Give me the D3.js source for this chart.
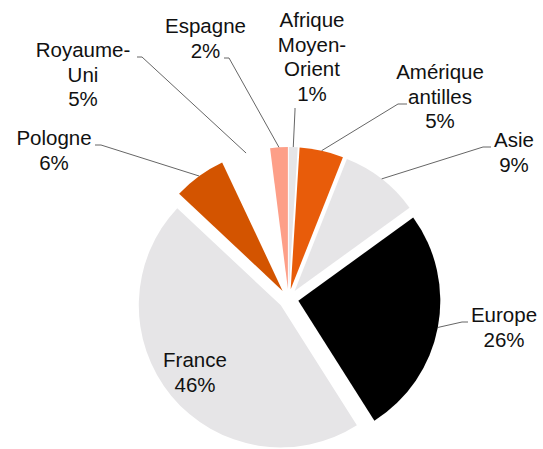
<!DOCTYPE html>
<html>
<head>
<meta charset="utf-8">
<script src="https://cdn.jsdelivr.net/npm/d3@7"></script>
<style>
  body { margin: 0; background: #fff; }
  text { font-family: "Liberation Sans", Arial, sans-serif; }
</style>
</head>
<body>
<div id="chart"></div>
<script>
// data, clockwise from 12 o'clock
var categories = ["Afrique Moyen-Orient", "Amérique antilles", "Asie", "Europe", "France", "Pologne", "Royaume-Uni", "Espagne"];
var labelLines = [["Afrique", "Moyen-", "Orient"], ["Amérique", "antilles"], ["Asie"], ["Europe"], ["France"], ["Pologne"], ["Royaume-", "Uni"], ["Espagne"]];
var values = [1, 5, 9, 26, 46, 6, 5, 2];
var colors = ["#e6e5e7", "#e85c0a", "#e6e5e7", "#000000", "#e6e5e7", "#d35400", "#ffffff", "#fd9f88"];

// label placement (layout only): centre x, first baseline y, leader stub [from, to] or null
var labelPos = [
    { x: 312, y: 27, stub: [[295, 108], [295, 110]] },
    { x: 440, y: 79, stub: [[407, 104], [398, 104]] },
    { x: 514, y: 147, stub: [[491, 147], [483, 147]] },
    { x: 504, y: 322, stub: [[468, 322], [462, 322]] },
    { x: 195, y: 367, stub: null },
    { x: 54, y: 145, stub: [[95, 145], [101, 145]] },
    { x: 83, y: 57, stub: [[137, 57], [142, 57]] },
    { x: 205.5, y: 33, stub: [[224, 58], [229, 58]] }
];

var width = 543,
    height = 449,
    cx = 288.5,
    cy = 299,
    radius = 142,
    explode = 10,
    lineH = 24.5;

var svg = d3.select("#chart").append("svg")
    .attr("width", width)
    .attr("height", height);

var g = svg.append("g")
    .attr("transform", "translate(" + cx + "," + cy + ")");

var pie = d3.pie().sort(null).value(function(d) { return d; });
var arcs = pie(values);

var arc = d3.arc().innerRadius(0).outerRadius(radius);

function dir(d) {
    var a = (d.startAngle + d.endAngle) / 2;
    return [Math.sin(a), -Math.cos(a)];
}

// slices, each pulled out a little
g.selectAll("path.slice")
    .data(arcs)
    .enter().append("path")
    .attr("class", "slice")
    .attr("d", arc)
    .attr("transform", function(d) {
        var v = dir(d);
        return "translate(" + v[0] * explode + "," + v[1] * explode + ")";
    })
    .style("fill", function(d, i) { return colors[i]; });

// leader lines
svg.selectAll("path.leader")
    .data(arcs.filter(function(d, i) { return labelPos[i].stub; }))
    .enter().append("path")
    .attr("class", "leader")
    .attr("d", function(d) {
        var p = labelPos[d.index], v = dir(d);
        var ex = cx + v[0] * (radius + explode),
            ey = cy + v[1] * (radius + explode);
        return "M" + p.stub[0][0] + "," + p.stub[0][1] +
               "L" + p.stub[1][0] + "," + p.stub[1][1] +
               "L" + ex + "," + ey;
    })
    .style("fill", "none")
    .style("stroke", "#666")
    .style("stroke-width", 1);

// labels
var fmt = d3.format(".0%");
var total = d3.sum(values);

var labels = svg.selectAll("text.label")
    .data(arcs)
    .enter().append("text")
    .attr("class", "label")
    .attr("text-anchor", "middle")
    .attr("font-size", "20.5px")
    .attr("fill", "#111");

labels.each(function(d, i) {
    var t = d3.select(this), p = labelPos[i];
    var lines = labelLines[i].concat([fmt(values[i] / total)]);
    lines.forEach(function(s, k) {
        t.append("tspan")
            .attr("x", p.x)
            .attr("y", p.y + k * lineH)
            .text(s);
    });
});
</script>
</body>
</html>
